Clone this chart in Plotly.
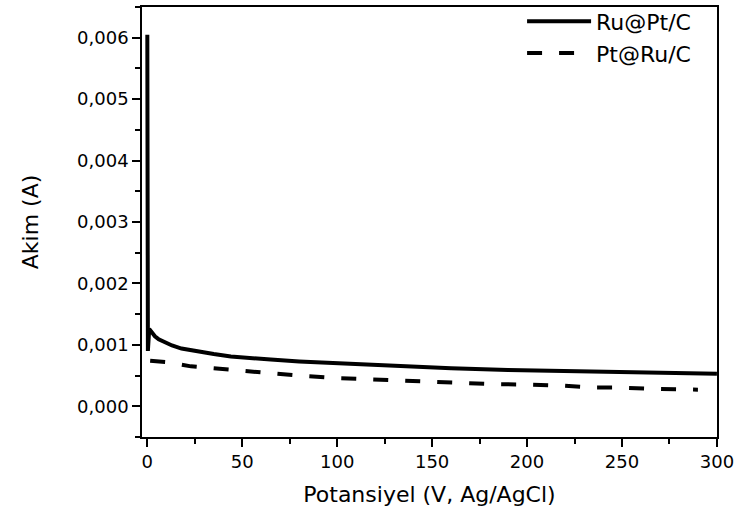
import plotly.graph_objects as go

# Ru@Pt/C (solid)
ru_pt_x = [0, 0.3, 1, 2, 4, 6, 9, 13, 18, 26, 35, 44, 55, 65, 80, 97, 115, 135, 160, 190, 220, 250, 275, 300]
ru_pt_y = [0.00605, 0.00090, 0.00126, 0.00121, 0.00114, 0.00109, 0.00104, 0.00099, 0.00094, 0.00089,
           0.00085, 0.00081, 0.00078, 0.00076, 0.00073, 0.000706, 0.00068, 0.00065, 0.00062, 0.00059,
           0.00057, 0.00055, 0.00054, 0.00053]

# Pt@Ru/C (dashed)
pt_ru_x = [1.5, 10, 23, 42, 59, 80, 100, 118, 136, 154, 165, 182, 200, 218, 236, 247, 266, 290]
pt_ru_y = [0.00074, 0.00072, 0.00065, 0.00060, 0.00055, 0.00050, 0.00046, 0.000435, 0.000414, 0.00039,
           0.00038, 0.00036, 0.000354, 0.000338, 0.000305, 0.000305, 0.000284, 0.00027]

x_title = "Potansiyel (V, Ag/AgCl)"
y_title = "Akim (A)"
FONT = "DejaVu Sans"

fig = go.Figure()
fig.add_trace(go.Scatter(x=ru_pt_x, y=ru_pt_y, mode="lines", name="Ru@Pt/C",
                         line=dict(color="black", width=4)))
fig.add_trace(go.Scatter(x=pt_ru_x, y=pt_ru_y, mode="lines", name="Pt@Ru/C",
                         line=dict(color="black", width=4, dash="15px,17px")))

axis_common = dict(showline=True, linecolor="black", linewidth=1.5, mirror=True,
                   ticks="outside", tickcolor="black", tickwidth=1.5, ticklen=8,
                   showgrid=False, zeroline=False,
                   tickfont=dict(family=FONT, size=18, color="black"))

fig.update_xaxes(range=[-2.8, 300.05], dtick=50, tick0=0, ticklabeloverflow="allow",
                 minor=dict(dtick=25, ticks="outside", ticklen=5, tickwidth=1.5, tickcolor="black"),
                 title=dict(text=x_title, font=dict(family=FONT, size=22, color="black"), standoff=15),
                 **axis_common)
fig.update_yaxes(range=[-0.0005, 0.0065], dtick=0.001, tick0=0, tickformat=".3f",
                 minor=dict(dtick=0.0005, ticks="outside", ticklen=5, tickwidth=1.5, tickcolor="black"),
                 title=dict(text=y_title, font=dict(family=FONT, size=22, color="black"), standoff=32),
                 **axis_common)

fig.update_layout(
    width=734, height=515,
    margin=dict(l=142, r=17, t=7, b=78, autoexpand=False),
    paper_bgcolor="white", plot_bgcolor="white",
    separators=", ",
    legend=dict(x=0.661, y=1.015, xanchor="left", yanchor="top", bgcolor="rgba(0,0,0,0)",
                font=dict(family=FONT, size=22, color="black"), itemwidth=64,
                borderwidth=0),
    font=dict(family=FONT, color="black"),
)

fig.write_html("out.html")
